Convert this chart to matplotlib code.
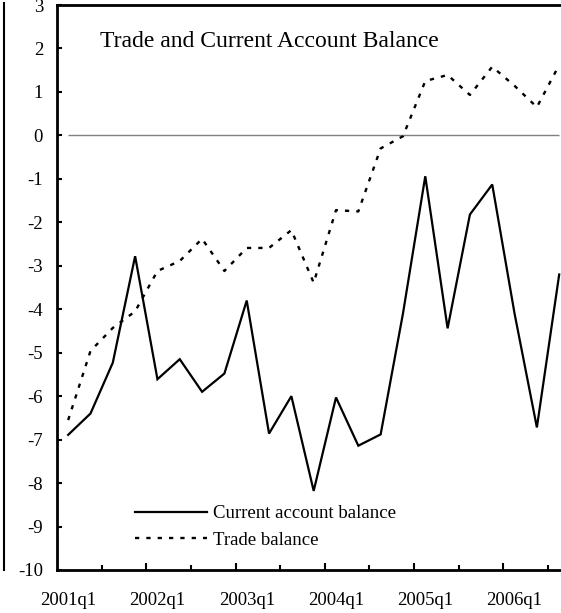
import matplotlib
matplotlib.use("Agg")
import matplotlib.pyplot as plt
from matplotlib.lines import Line2D

plt.rcParams['font.family'] = ['Liberation Serif', 'DejaVu Serif']
plt.rcParams['axes.unicode_minus'] = False

# ---- data ----
quarters = [f"{y}q{q}" for y in range(2001, 2007) for q in range(1, 5)][:23]
current_account = [-6.89, -6.40, -5.23, -2.78, -5.61, -5.15, -5.90, -5.48,
                   -3.80, -6.86, -6.00, -8.18, -6.03, -7.14, -6.88, -4.10,
                   -0.94, -4.44, -1.82, -1.13, -4.10, -6.72, -3.20]
trade_balance = [-6.55, -4.96, -4.43, -4.05, -3.12, -2.89, -2.38, -3.12,
                 -2.59, -2.59, -2.18, -3.39, -1.72, -1.75, -0.30, -0.02,
                  1.25, 1.39, 0.93, 1.58, 1.14, 0.65, 1.62]
label_quarters = ["2001q1", "2002q1", "2003q1", "2004q1", "2005q1", "2006q1"]
y_ticks = list(range(-10, 4))
title = "Trade and Current Account Balance"
series_names = ["Current account balance", "Trade balance"]

W, H = 561, 613
fig = plt.figure(figsize=(W / 100, H / 100), dpi=100)
n = len(quarters)
step = 22.32
left_px, top_px, bottom_px = 57, 5, 570
ax = fig.add_axes([left_px / W, (H - bottom_px) / H, n * step / W, (bottom_px - top_px) / H])

x = list(range(n))
ax.hlines(0, x[0], x[-1], color='#808080', lw=1.0, zorder=1)
l1, = ax.plot(x, current_account, color='black', lw=1.6, solid_joinstyle='miter', zorder=3)
l2, = ax.plot(x, trade_balance, color='black', lw=1.7, linestyle=(0, (1.8, 3.0)),
              dash_capstyle='butt', zorder=3)

ax.set_xlim(-0.5, n - 0.5)
ax.set_ylim(-10, 3)

for s in ['left', 'top', 'bottom']:
    ax.spines[s].set_linewidth(2.0)
ax.spines['right'].set_visible(False)

ax.set_yticks(y_ticks)
ax.set_yticklabels([str(v) for v in y_ticks])
ax.tick_params(axis='y', direction='in', length=3.6, width=1.5, pad=10, labelsize=13.5)

major_pos = [i + 3.5 for i in range(0, 20, 4)]
minor_pos = [i + 1.5 for i in range(0, 22, 4)]
ax.set_xticks(major_pos)
ax.set_xticklabels([])
ax.set_xticks(minor_pos, minor=True)
ax.tick_params(axis='x', which='major', direction='in', length=5, width=1.5)
ax.tick_params(axis='x', which='minor', direction='in', length=3.3, width=1.5)

sec = ax.secondary_xaxis('bottom')
sec.set_xticks([quarters.index(q) for q in label_quarters])
sec.set_xticklabels(label_quarters)
sec.tick_params(length=0, pad=16, labelsize=13.5)
sec.spines['bottom'].set_visible(False)

ax.text((100 - left_px) / (n * step), (bottom_px - 47) / (bottom_px - top_px), title,
        transform=ax.transAxes, fontsize=17, va='baseline', ha='left')

ax.legend([l1, l2], series_names, loc='center left',
          bbox_to_anchor=(135 / W, 86 / H), bbox_transform=fig.transFigure,
          frameon=False, handlelength=3.85, handletextpad=0.3, labelspacing=0.5,
          borderpad=0, borderaxespad=0, fontsize=13.5)

fig.add_artist(Line2D([4 / W, 4 / W], [(H - 570) / H, (H - 3) / H], lw=1.5,
                      color='black', transform=fig.transFigure))

fig.savefig("out.png", dpi=100)
